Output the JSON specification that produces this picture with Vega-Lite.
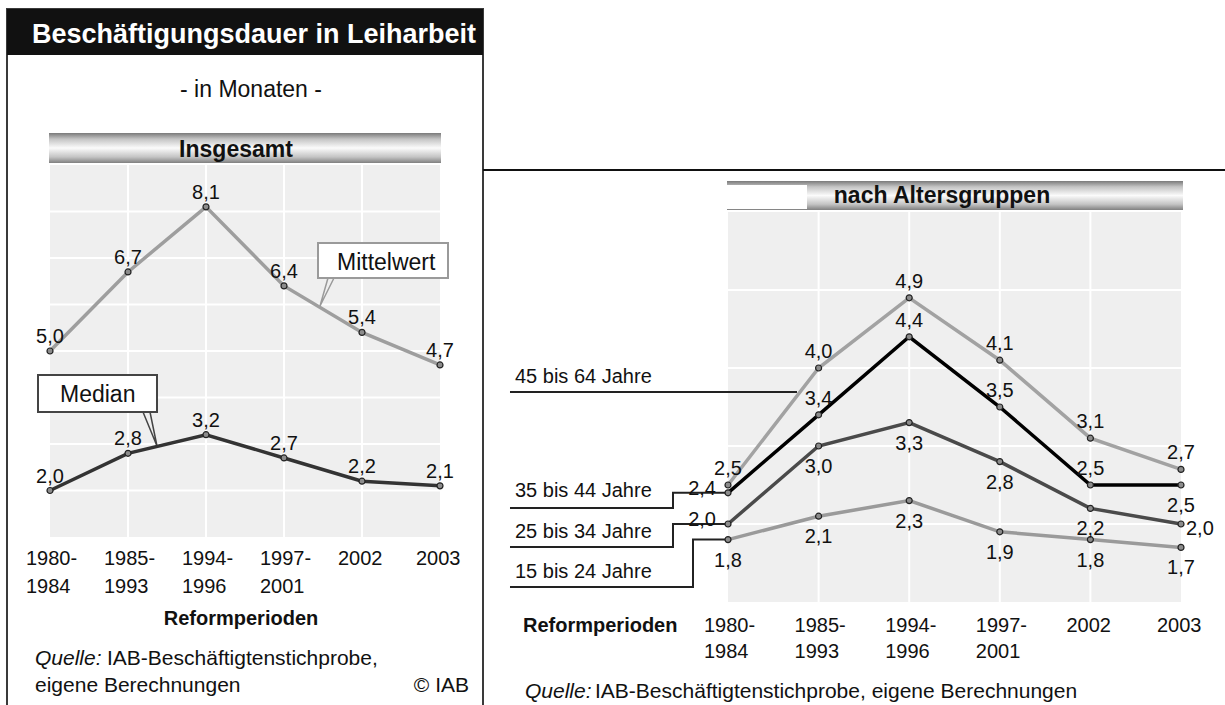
{
  "$schema": "https://vega.github.io/schema/vega-lite/v6.json",
  "width": 1225,
  "height": 705,
  "autosize": {"type": "none"},
  "padding": 0,
  "background": "white",
  "config": {
    "view": {"stroke": null},
    "text": {"font": "Liberation Sans", "fill": "#111111"},
    "locale": {"number": {"decimal": ",", "thousands": ".", "grouping": [3], "currency": ["", " €"]}}
  },
  "datasets": {
    "ins": [
      {"series": "Mittelwert", "period": "1980-1984", "t": 0, "v": 5.0},
      {"series": "Mittelwert", "period": "1985-1993", "t": 1, "v": 6.7},
      {"series": "Mittelwert", "period": "1994-1996", "t": 2, "v": 8.1},
      {"series": "Mittelwert", "period": "1997-2001", "t": 3, "v": 6.4},
      {"series": "Mittelwert", "period": "2002", "t": 4, "v": 5.4},
      {"series": "Mittelwert", "period": "2003", "t": 5, "v": 4.7},
      {"series": "Median", "period": "1980-1984", "t": 0, "v": 2.0},
      {"series": "Median", "period": "1985-1993", "t": 1, "v": 2.8},
      {"series": "Median", "period": "1994-1996", "t": 2, "v": 3.2},
      {"series": "Median", "period": "1997-2001", "t": 3, "v": 2.7},
      {"series": "Median", "period": "2002", "t": 4, "v": 2.2},
      {"series": "Median", "period": "2003", "t": 5, "v": 2.1}
    ],
    "alter": [
      {"group": "45 bis 64 Jahre", "period": "1980-1984", "t": 0, "v": 2.5},
      {"group": "45 bis 64 Jahre", "period": "1985-1993", "t": 1, "v": 4.0},
      {"group": "45 bis 64 Jahre", "period": "1994-1996", "t": 2, "v": 4.9},
      {"group": "45 bis 64 Jahre", "period": "1997-2001", "t": 3, "v": 4.1},
      {"group": "45 bis 64 Jahre", "period": "2002", "t": 4, "v": 3.1},
      {"group": "45 bis 64 Jahre", "period": "2003", "t": 5, "v": 2.7},
      {"group": "35 bis 44 Jahre", "period": "1980-1984", "t": 0, "v": 2.4},
      {"group": "35 bis 44 Jahre", "period": "1985-1993", "t": 1, "v": 3.4},
      {"group": "35 bis 44 Jahre", "period": "1994-1996", "t": 2, "v": 4.4},
      {"group": "35 bis 44 Jahre", "period": "1997-2001", "t": 3, "v": 3.5},
      {"group": "35 bis 44 Jahre", "period": "2002", "t": 4, "v": 2.5},
      {"group": "35 bis 44 Jahre", "period": "2003", "t": 5, "v": 2.5},
      {"group": "25 bis 34 Jahre", "period": "1980-1984", "t": 0, "v": 2.0},
      {"group": "25 bis 34 Jahre", "period": "1985-1993", "t": 1, "v": 3.0},
      {"group": "25 bis 34 Jahre", "period": "1994-1996", "t": 2, "v": 3.3},
      {"group": "25 bis 34 Jahre", "period": "1997-2001", "t": 3, "v": 2.8},
      {"group": "25 bis 34 Jahre", "period": "2002", "t": 4, "v": 2.2},
      {"group": "25 bis 34 Jahre", "period": "2003", "t": 5, "v": 2.0},
      {"group": "15 bis 24 Jahre", "period": "1980-1984", "t": 0, "v": 1.8},
      {"group": "15 bis 24 Jahre", "period": "1985-1993", "t": 1, "v": 2.1},
      {"group": "15 bis 24 Jahre", "period": "1994-1996", "t": 2, "v": 2.3},
      {"group": "15 bis 24 Jahre", "period": "1997-2001", "t": 3, "v": 1.9},
      {"group": "15 bis 24 Jahre", "period": "2002", "t": 4, "v": 1.8},
      {"group": "15 bis 24 Jahre", "period": "2003", "t": 5, "v": 1.7}
    ]
  },
  "layer": [
    {
      "encoding": {
        "x": {"field": "t", "type": "quantitative", "scale": {"domain": [-0.641, 15.0641], "nice": false, "zero": false}, "axis": null},
        "y": {"field": "v", "type": "quantitative", "scale": {"domain": [-2.6129, 12.5484], "nice": false, "zero": false}, "axis": null}
      },
      "layer": [
        {"data": {"values": [{"t": -0.5513, "t2": 5.5513, "v": 12.3548, "v2": -3.1505}]},
         "mark": {"type": "rect", "fill": "white", "stroke": "#3a3a3a", "strokeWidth": 2},
         "encoding": {"x2": {"field": "t2"}, "y2": {"field": "v2"}}},
        {"data": {"values": [{"t": -0.5513, "t2": 5.5513, "v": 12.3548, "v2": 11.3656}]},
         "mark": {"type": "rect", "fill": "#111111"},
         "encoding": {"x2": {"field": "t2"}, "y2": {"field": "v2"}}},
        {"data": {"values": [{"t": -0.2308, "v": 11.6237, "s": "Beschäftigungsdauer in Leiharbeit"}]},
         "mark": {"type": "text", "align": "left", "baseline": "alphabetic", "fontSize": 27, "fontWeight": "bold", "fill": "white"},
         "encoding": {"text": {"field": "s"}}},
        {"data": {"values": [{"t": 2.5769, "v": 10.4624, "s": "- in Monaten -"}]},
         "mark": {"type": "text", "align": "center", "baseline": "alphabetic", "fontSize": 23},
         "encoding": {"text": {"field": "s"}}},
        {"data": {"values": [{"t": -0.0128, "t2": 5.0128, "v": 9.6882, "v2": 9.043}]},
         "mark": {"type": "rect", "fill": {"gradient": "linear", "x1": 0, "y1": 0, "x2": 0, "y2": 1, "stops": [{"offset": 0, "color": "#7a7a7a"}, {"offset": 0.2, "color": "#c4c4c4"}, {"offset": 0.5, "color": "#fbfbfb"}, {"offset": 0.8, "color": "#c4c4c4"}, {"offset": 1, "color": "#808080"}]}},
         "encoding": {"x2": {"field": "t2"}, "y2": {"field": "v2"}}},
        {"data": {"values": [{"t": 2.3846, "v": 9.172, "s": "Insgesamt"}]},
         "mark": {"type": "text", "align": "center", "baseline": "alphabetic", "fontSize": 23, "fontWeight": "bold"},
         "encoding": {"text": {"field": "s"}}},
        {"data": {"values": [{"t": 0, "t2": 5, "v": 1, "v2": 9}]},
         "mark": {"type": "rect", "fill": "#efefef"},
         "encoding": {"x2": {"field": "t2"}, "y2": {"field": "v2"}}},
        {"data": {"values": [{"t": 1, "v": 1, "v2": 9}, {"t": 2, "v": 1, "v2": 9}, {"t": 3, "v": 1, "v2": 9}, {"t": 4, "v": 1, "v2": 9}]},
         "mark": {"type": "rule", "stroke": "white", "strokeWidth": 2},
         "encoding": {"y2": {"field": "v2"}}},
        {"data": {"values": [{"t": 0, "t2": 5, "v": 2}, {"t": 0, "t2": 5, "v": 3}, {"t": 0, "t2": 5, "v": 4}, {"t": 0, "t2": 5, "v": 5}, {"t": 0, "t2": 5, "v": 6}, {"t": 0, "t2": 5, "v": 7}, {"t": 0, "t2": 5, "v": 8}]},
         "mark": {"type": "rule", "stroke": "white", "strokeWidth": 2},
         "encoding": {"x2": {"field": "t2"}}},
        {"data": {"values": [{"t": 3.4359, "t2": 5.1026, "v": 7.3226, "v2": 6.5699}]},
         "mark": {"type": "rect", "fill": "white", "stroke": "#9a9a9a", "strokeWidth": 2},
         "encoding": {"x2": {"field": "t2"}, "y2": {"field": "v2"}}},
        {"data": {"values": [{"k": 0, "t": 3.5641, "v": 6.5699}, {"k": 1, "t": 3.4615, "v": 5.9677}, {"k": 2, "t": 3.641, "v": 6.5699}]},
         "mark": {"type": "line", "stroke": "#9a9a9a", "strokeWidth": 1.5},
         "encoding": {"order": {"field": "k"}}},
        {"data": {"values": [{"t": 3.6795, "v": 6.7419, "s": "Mittelwert"}]},
         "mark": {"type": "text", "align": "left", "baseline": "alphabetic", "fontSize": 23},
         "encoding": {"text": {"field": "s"}}},
        {"data": {"values": [{"t": -0.1538, "t2": 1.3718, "v": 4.4839, "v2": 3.6882}]},
         "mark": {"type": "rect", "fill": "white", "stroke": "#444444", "strokeWidth": 2},
         "encoding": {"x2": {"field": "t2"}, "y2": {"field": "v2"}}},
        {"data": {"values": [{"k": 0, "t": 1.1923, "v": 3.6882}, {"k": 1, "t": 1.3718, "v": 2.957}, {"k": 2, "t": 1.2821, "v": 3.6882}]},
         "mark": {"type": "line", "stroke": "#444444", "strokeWidth": 1.5},
         "encoding": {"order": {"field": "k"}}},
        {"data": {"values": [{"t": 0.1282, "v": 3.9032, "s": "Median"}]},
         "mark": {"type": "text", "align": "left", "baseline": "alphabetic", "fontSize": 23},
         "encoding": {"text": {"field": "s"}}},
        {"data": {"name": "ins"}, "transform": [{"filter": "datum.series == 'Mittelwert'"}],
         "mark": {"type": "line", "stroke": "#9e9e9e", "strokeWidth": 3.5}},
        {"data": {"name": "ins"}, "transform": [{"filter": "datum.series == 'Median'"}],
         "mark": {"type": "line", "stroke": "#333333", "strokeWidth": 3.5}},
        {"data": {"name": "ins"},
         "mark": {"type": "circle", "fill": "#8c8c8c", "stroke": "#222222", "strokeWidth": 1.2, "size": 36, "opacity": 1}},
        {"data": {"name": "ins"},
         "mark": {"type": "text", "align": "center", "baseline": "alphabetic", "dy": -8, "fontSize": 20},
         "encoding": {"text": {"field": "v", "type": "quantitative", "format": ".1f"}}},
        {"data": {"values": [
           {"t": 0, "v": 0.3978, "s": "1980-"}, {"t": 1, "v": 0.3978, "s": "1985-"}, {"t": 2, "v": 0.3978, "s": "1994-"},
           {"t": 3, "v": 0.3978, "s": "1997-"}, {"t": 4, "v": 0.3978, "s": "2002"}, {"t": 5, "v": 0.3978, "s": "2003"},
           {"t": 0, "v": -0.2043, "s": "1984"}, {"t": 1, "v": -0.2043, "s": "1993"}, {"t": 2, "v": -0.2043, "s": "1996"},
           {"t": 3, "v": -0.2043, "s": "2001"}
         ]},
         "mark": {"type": "text", "align": "left", "dx": -24, "baseline": "alphabetic", "fontSize": 20},
         "encoding": {"text": {"field": "s"}}},
        {"data": {"values": [{"t": 2.4487, "v": -0.8925, "s": "Reformperioden"}]},
         "mark": {"type": "text", "align": "center", "baseline": "alphabetic", "fontSize": 20, "fontWeight": "bold"},
         "encoding": {"text": {"field": "s"}}},
        {"data": {"values": [{"t": -0.1923, "v": -1.7527, "s": "Quelle:"}]},
         "mark": {"type": "text", "align": "left", "baseline": "alphabetic", "fontSize": 21, "fontStyle": "italic"},
         "encoding": {"text": {"field": "s"}}},
        {"data": {"values": [{"t": 0.7308, "v": -1.7527, "s": "IAB-Beschäftigtenstichprobe,"}, {"t": -0.1923, "v": -2.3333, "s": "eigene Berechnungen"}]},
         "mark": {"type": "text", "align": "left", "baseline": "alphabetic", "fontSize": 21},
         "encoding": {"text": {"field": "s"}}},
        {"data": {"values": [{"t": 5.3718, "v": -2.3333, "s": "© IAB"}]},
         "mark": {"type": "text", "align": "right", "baseline": "alphabetic", "fontSize": 21},
         "encoding": {"text": {"field": "s"}}}
      ]
    },
    {
      "encoding": {
        "x": {"field": "t", "type": "quantitative", "scale": {"domain": [-8.0353, 5.4857], "nice": false, "zero": false}, "axis": null},
        "y": {"field": "v", "type": "quantitative", "scale": {"domain": [-0.3205, 8.7179], "nice": false, "zero": false}, "axis": null}
      },
      "layer": [
        {"data": {"values": [{"t": -2.7042, "t2": 5.6, "v": 6.5385}]},
         "mark": {"type": "rule", "stroke": "#111111", "strokeWidth": 2},
         "encoding": {"x2": {"field": "t2"}}},
        {"data": {"values": [{"t": -0.011, "t2": 5.0221, "v": 6.3974, "v2": 6.0256}]},
         "mark": {"type": "rect", "fill": {"gradient": "linear", "x1": 0, "y1": 0, "x2": 0, "y2": 1, "stops": [{"offset": 0, "color": "#7a7a7a"}, {"offset": 0.2, "color": "#c4c4c4"}, {"offset": 0.5, "color": "#fbfbfb"}, {"offset": 0.8, "color": "#c4c4c4"}, {"offset": 1, "color": "#808080"}]}},
         "encoding": {"x2": {"field": "t2"}, "y2": {"field": "v2"}}},
        {"data": {"values": [{"t": -0.011, "t2": 0.872, "v": 6.3462, "v2": 6.0385}]},
         "mark": {"type": "rect", "fill": "white"},
         "encoding": {"x2": {"field": "t2"}, "y2": {"field": "v2"}}},
        {"data": {"values": [{"t": 2.362, "v": 6.1154, "s": "nach Altersgruppen"}]},
         "mark": {"type": "text", "align": "center", "baseline": "alphabetic", "fontSize": 23, "fontWeight": "bold"},
         "encoding": {"text": {"field": "s"}}},
        {"data": {"values": [{"t": 0, "t2": 5, "v": 1, "v2": 6}]},
         "mark": {"type": "rect", "fill": "#efefef"},
         "encoding": {"x2": {"field": "t2"}, "y2": {"field": "v2"}}},
        {"data": {"values": [{"t": 1, "v": 1, "v2": 6}, {"t": 2, "v": 1, "v2": 6}, {"t": 3, "v": 1, "v2": 6}, {"t": 4, "v": 1, "v2": 6}]},
         "mark": {"type": "rule", "stroke": "white", "strokeWidth": 2},
         "encoding": {"y2": {"field": "v2"}}},
        {"data": {"values": [{"t": 0, "t2": 5, "v": 2}, {"t": 0, "t2": 5, "v": 3}, {"t": 0, "t2": 5, "v": 4}, {"t": 0, "t2": 5, "v": 5}]},
         "mark": {"type": "rule", "stroke": "white", "strokeWidth": 2},
         "encoding": {"x2": {"field": "t2"}}},
        {"data": {"values": [
           {"g": "45 bis 64 Jahre", "k": 0, "t": -2.4062, "v": 3.6923},
           {"g": "45 bis 64 Jahre", "k": 1, "t": 0.7616, "v": 3.6923},
           {"g": "35 bis 44 Jahre", "k": 0, "t": -2.4062, "v": 2.2051},
           {"g": "35 bis 44 Jahre", "k": 1, "t": -0.6071, "v": 2.2051},
           {"g": "35 bis 44 Jahre", "k": 2, "t": -0.6071, "v": 2.4},
           {"g": "35 bis 44 Jahre", "k": 3, "t": 0, "v": 2.4},
           {"g": "25 bis 34 Jahre", "k": 0, "t": -2.4062, "v": 1.7051},
           {"g": "25 bis 34 Jahre", "k": 1, "t": -0.6071, "v": 1.7051},
           {"g": "25 bis 34 Jahre", "k": 2, "t": -0.6071, "v": 2.0},
           {"g": "25 bis 34 Jahre", "k": 3, "t": 0, "v": 2.0},
           {"g": "15 bis 24 Jahre", "k": 0, "t": -2.4062, "v": 1.1923},
           {"g": "15 bis 24 Jahre", "k": 1, "t": -0.3863, "v": 1.1923},
           {"g": "15 bis 24 Jahre", "k": 2, "t": -0.3863, "v": 1.8},
           {"g": "15 bis 24 Jahre", "k": 3, "t": 0, "v": 1.8}
         ]},
         "mark": {"type": "line", "stroke": "#222222", "strokeWidth": 2, "interpolate": "linear"},
         "encoding": {"detail": {"field": "g"}, "order": {"field": "k"}}},
        {"data": {"values": [
           {"t": -2.351, "v": 3.8077, "s": "45 bis 64 Jahre"},
           {"t": -2.351, "v": 2.3462, "s": "35 bis 44 Jahre"},
           {"t": -2.351, "v": 1.8205, "s": "25 bis 34 Jahre"},
           {"t": -2.351, "v": 1.3077, "s": "15 bis 24 Jahre"}
         ]},
         "mark": {"type": "text", "align": "left", "baseline": "alphabetic", "fontSize": 20},
         "encoding": {"text": {"field": "s"}}},
        {"data": {"name": "alter"}, "transform": [{"filter": "datum.group == '15 bis 24 Jahre'"}],
         "mark": {"type": "line", "stroke": "#9a9a9a", "strokeWidth": 3.5}},
        {"data": {"name": "alter"}, "transform": [{"filter": "datum.group == '25 bis 34 Jahre'"}],
         "mark": {"type": "line", "stroke": "#4a4a4a", "strokeWidth": 3.5}},
        {"data": {"name": "alter"}, "transform": [{"filter": "datum.group == '45 bis 64 Jahre'"}],
         "mark": {"type": "line", "stroke": "#a2a2a2", "strokeWidth": 3.5}},
        {"data": {"name": "alter"}, "transform": [{"filter": "datum.group == '35 bis 44 Jahre'"}],
         "mark": {"type": "line", "stroke": "#000000", "strokeWidth": 3.5}},
        {"data": {"name": "alter"},
         "mark": {"type": "circle", "fill": "#8c8c8c", "stroke": "#222222", "strokeWidth": 1.2, "size": 36, "opacity": 1}},
        {"data": {"name": "alter"},
         "transform": [{"filter": "datum.group == '45 bis 64 Jahre' || (datum.group == '35 bis 44 Jahre' && datum.t > 0 && datum.t < 5)"}],
         "mark": {"type": "text", "align": "center", "baseline": "alphabetic", "dy": -10, "fontSize": 20},
         "encoding": {"text": {"field": "v", "type": "quantitative", "format": ".1f"}}},
        {"data": {"name": "alter"},
         "transform": [{"filter": "datum.group == '15 bis 24 Jahre' || (datum.group == '25 bis 34 Jahre' && datum.t > 0 && datum.t < 5) || (datum.group == '35 bis 44 Jahre' && datum.t == 5)"}],
         "mark": {"type": "text", "align": "center", "baseline": "alphabetic", "dy": 27, "fontSize": 20},
         "encoding": {"text": {"field": "v", "type": "quantitative", "format": ".1f"}}},
        {"data": {"name": "alter"},
         "transform": [{"filter": "(datum.group == '35 bis 44 Jahre' || datum.group == '25 bis 34 Jahre') && datum.t == 0"}],
         "mark": {"type": "text", "align": "right", "baseline": "alphabetic", "dx": -12, "dy": 2, "fontSize": 20},
         "encoding": {"text": {"field": "v", "type": "quantitative", "format": ".1f"}}},
        {"data": {"name": "alter"},
         "transform": [{"filter": "datum.group == '25 bis 34 Jahre' && datum.t == 5"}],
         "mark": {"type": "text", "align": "left", "baseline": "alphabetic", "dx": 5, "dy": 11, "fontSize": 20},
         "encoding": {"text": {"field": "v", "type": "quantitative", "format": ".1f"}}},
        {"data": {"values": [
           {"t": 0, "v": 0.6154, "s": "1980-"}, {"t": 1, "v": 0.6154, "s": "1985-"}, {"t": 2, "v": 0.6154, "s": "1994-"},
           {"t": 3, "v": 0.6154, "s": "1997-"}, {"t": 4, "v": 0.6154, "s": "2002"}, {"t": 5, "v": 0.6154, "s": "2003"},
           {"t": 0, "v": 0.2821, "s": "1984"}, {"t": 1, "v": 0.2821, "s": "1993"}, {"t": 2, "v": 0.2821, "s": "1996"},
           {"t": 3, "v": 0.2821, "s": "2001"}
         ]},
         "mark": {"type": "text", "align": "left", "dx": -24, "baseline": "alphabetic", "fontSize": 20},
         "encoding": {"text": {"field": "s"}}},
        {"data": {"values": [{"t": -2.2627, "v": 0.6154, "s": "Reformperioden"}]},
         "mark": {"type": "text", "align": "left", "baseline": "alphabetic", "fontSize": 20, "fontWeight": "bold"},
         "encoding": {"text": {"field": "s"}}},
        {"data": {"values": [{"t": -2.2406, "v": -0.2308, "s": "Quelle:"}]},
         "mark": {"type": "text", "align": "left", "baseline": "alphabetic", "fontSize": 21, "fontStyle": "italic"},
         "encoding": {"text": {"field": "s"}}},
        {"data": {"values": [{"t": -1.468, "v": -0.2308, "s": "IAB-Beschäftigtenstichprobe, eigene Berechnungen"}]},
         "mark": {"type": "text", "align": "left", "baseline": "alphabetic", "fontSize": 21},
         "encoding": {"text": {"field": "s"}}}
      ]
    }
  ],
  "resolve": {"scale": {"x": "independent", "y": "independent"}}
}
